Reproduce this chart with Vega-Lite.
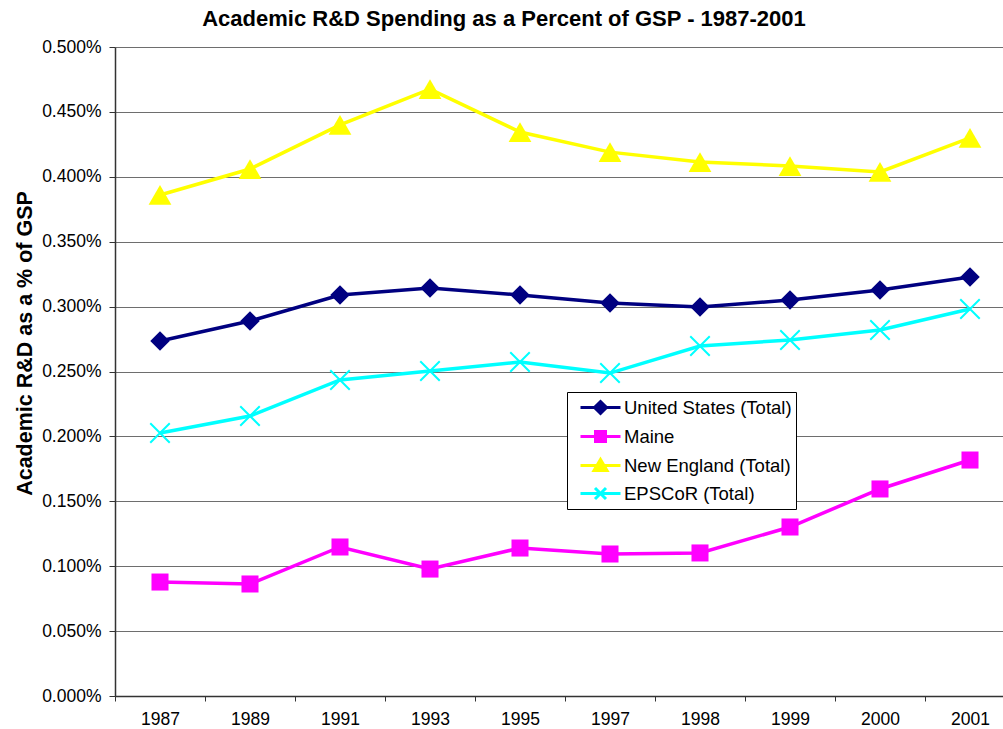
{
  "$schema": "https://vega.github.io/schema/vega-lite/v6.json",
  "autosize": {"type": "none"},
  "width": 888,
  "height": 649,
  "padding": {"left": 115, "top": 47, "right": 0, "bottom": 33},
  "background": "white",
  "title": {
    "text": "Academic R&D Spending as a Percent of GSP - 1987-2001",
    "font": "Liberation Sans",
    "fontSize": 22,
    "fontWeight": "bold",
    "color": "black",
    "anchor": "middle",
    "dx": -55,
    "offset": 7
  },
  "config": {
    "view": {"stroke": null},
    "font": "Liberation Sans"
  },
  "data": {
    "values": [
      {"year": "1987", "series": "United States (Total)", "pct": 0.002735},
      {"year": "1989", "series": "United States (Total)", "pct": 0.002889},
      {"year": "1991", "series": "United States (Total)", "pct": 0.003089},
      {"year": "1993", "series": "United States (Total)", "pct": 0.003143},
      {"year": "1995", "series": "United States (Total)", "pct": 0.003089},
      {"year": "1997", "series": "United States (Total)", "pct": 0.003028},
      {"year": "1998", "series": "United States (Total)", "pct": 0.002997},
      {"year": "1999", "series": "United States (Total)", "pct": 0.003051},
      {"year": "2000", "series": "United States (Total)", "pct": 0.003128},
      {"year": "2001", "series": "United States (Total)", "pct": 0.003228},
      {"year": "1987", "series": "Maine", "pct": 0.000878},
      {"year": "1989", "series": "Maine", "pct": 0.000863},
      {"year": "1991", "series": "Maine", "pct": 0.001148},
      {"year": "1993", "series": "Maine", "pct": 0.000978},
      {"year": "1995", "series": "Maine", "pct": 0.00114},
      {"year": "1997", "series": "Maine", "pct": 0.001094},
      {"year": "1998", "series": "Maine", "pct": 0.001102},
      {"year": "1999", "series": "Maine", "pct": 0.001302},
      {"year": "2000", "series": "Maine", "pct": 0.001595},
      {"year": "2001", "series": "Maine", "pct": 0.001818},
      {"year": "1987", "series": "New England (Total)", "pct": 0.00386},
      {"year": "1989", "series": "New England (Total)", "pct": 0.00406},
      {"year": "1991", "series": "New England (Total)", "pct": 0.0044},
      {"year": "1993", "series": "New England (Total)", "pct": 0.004676},
      {"year": "1995", "series": "New England (Total)", "pct": 0.004345},
      {"year": "1997", "series": "New England (Total)", "pct": 0.00419},
      {"year": "1998", "series": "New England (Total)", "pct": 0.004114},
      {"year": "1999", "series": "New England (Total)", "pct": 0.004083},
      {"year": "2000", "series": "New England (Total)", "pct": 0.004037},
      {"year": "2001", "series": "New England (Total)", "pct": 0.0043},
      {"year": "1987", "series": "EPSCoR (Total)", "pct": 0.002026},
      {"year": "1989", "series": "EPSCoR (Total)", "pct": 0.002157},
      {"year": "1991", "series": "EPSCoR (Total)", "pct": 0.002435},
      {"year": "1993", "series": "EPSCoR (Total)", "pct": 0.002504},
      {"year": "1995", "series": "EPSCoR (Total)", "pct": 0.002573},
      {"year": "1997", "series": "EPSCoR (Total)", "pct": 0.002488},
      {"year": "1998", "series": "EPSCoR (Total)", "pct": 0.002696},
      {"year": "1999", "series": "EPSCoR (Total)", "pct": 0.002743},
      {"year": "2000", "series": "EPSCoR (Total)", "pct": 0.00282},
      {"year": "2001", "series": "EPSCoR (Total)", "pct": 0.002982}
    ]
  },
  "encoding": {
    "x": {
      "field": "year",
      "type": "ordinal",
      "sort": null,
      "scale": {"type": "band", "range": [0, 900], "paddingInner": 0, "paddingOuter": 0},
      "axis": {
        "title": null,
        "labelAngle": 0,
        "labelFont": "Liberation Sans",
        "labelFontSize": 17.5,
        "labelColor": "black",
        "labelPadding": 9,
        "tickSize": 5,
        "tickBand": "extent",
        "tickColor": "#333",
        "domainColor": "#333",
        "domainWidth": 1.5,
        "grid": false
      }
    },
    "y": {
      "field": "pct",
      "type": "quantitative",
      "scale": {"domain": [0, 0.005], "nice": false, "zero": true},
      "axis": {
        "title": "Academic R&D as a % of GSP",
        "titleFont": "Liberation Sans",
        "titleFontSize": 21.5,
        "titleFontWeight": "bold",
        "titleColor": "black",
        "titlePadding": 5,
        "titleY": 296,
        "format": ".3%",
        "values": [0, 0.0005, 0.001, 0.0015, 0.002, 0.0025, 0.003, 0.0035, 0.004, 0.0045, 0.005],
        "labelFont": "Liberation Sans",
        "labelFontSize": 17.5,
        "labelColor": "black",
        "labelPadding": 8,
        "tickSize": 6,
        "tickColor": "#333",
        "domainColor": "#333",
        "domainWidth": 1.5,
        "grid": true,
        "gridColor": "#6e6e6e",
        "gridWidth": 1
      }
    },
    "color": {
      "field": "series",
      "type": "nominal",
      "scale": {
        "domain": ["United States (Total)", "Maine", "New England (Total)", "EPSCoR (Total)"],
        "range": ["#000080", "#ff00ff", "#ffff00", "#00ffff"]
      },
      "legend": {
        "title": null,
        "orient": "none",
        "legendX": 452,
        "legendY": 345,
        "direction": "vertical",
        "strokeColor": "black",
        "fillColor": "white",
        "padding": 4,
        "labelFont": "Liberation Sans",
        "labelFontSize": 18.5,
        "labelColor": "black",
        "labelLimit": 300,
        "labelOffset": 30,
        "rowPadding": 5,
        "symbolSize": 400,
        "symbolStrokeWidth": 3,
        "symbolOpacity": 1,
        "encode": {
          "symbols": {
            "update": {
              "shape": {"signal": "datum.value === 'United States (Total)' ? 'M-0.2,0H3.8M1.8,-0.6L2.4,0L1.8,0.6L1.2,0Z' : datum.value === 'Maine' ? 'M-0.2,0H3.8M1.3,-0.5H2.3V0.5H1.3Z' : datum.value === 'New England (Total)' ? 'M-0.2,0H3.8M1.8,-0.6L2.45,0.5L1.15,0.5Z' : 'M-0.2,0H3.8M1.25,-0.55L2.35,0.55M1.25,0.55L2.35,-0.55'"},
              "size": {"value": 400},
              "strokeWidth": {"value": 3},
              "fill": {"signal": "datum.value === 'EPSCoR (Total)' ? 'transparent' : scale('color', datum.value)"},
              "stroke": {"signal": "scale('color', datum.value)"}
            }
          }
        }
      }
    }
  },
  "layer": [
    {
      "mark": {"type": "line", "strokeWidth": 3.5}
    },
    {
      "transform": [{"filter": "datum.series === 'United States (Total)'"}],
      "mark": {"type": "point", "shape": "diamond", "filled": true, "opacity": 1, "size": 380}
    },
    {
      "transform": [{"filter": "datum.series === 'Maine'"}],
      "mark": {"type": "point", "shape": "square", "filled": true, "opacity": 1, "size": 290}
    },
    {
      "transform": [{"filter": "datum.series === 'New England (Total)'"}],
      "mark": {"type": "point", "shape": "triangle-up", "filled": true, "opacity": 1, "size": 520}
    },
    {
      "transform": [{"filter": "datum.series === 'EPSCoR (Total)'"}],
      "mark": {"type": "point", "shape": "M-1,-1L1,1M-1,1L1,-1", "filled": false, "opacity": 1, "size": 380, "strokeWidth": 2}
    }
  ]
}
